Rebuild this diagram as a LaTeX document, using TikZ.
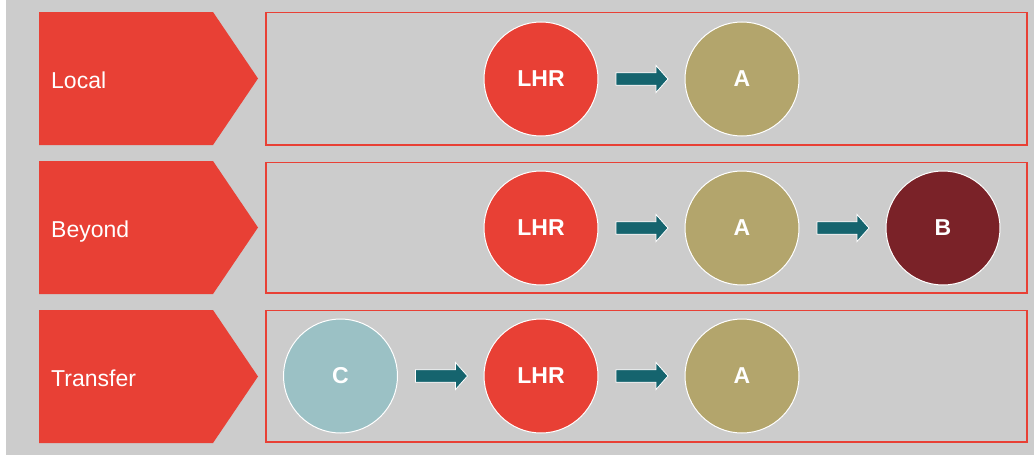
\documentclass[tikz,border=0pt]{standalone}
\usepackage{fontspec}
\setmainfont{Liberation Sans}
\definecolor{bg}{HTML}{CCCCCC}
\definecolor{hred}{HTML}{E84035}
\definecolor{aolive}{HTML}{B3A56C}
\definecolor{bmaroon}{HTML}{7A2228}
\definecolor{cteal}{HTML}{9BC1C5}
\definecolor{arrteal}{HTML}{15646E}
\tikzset{
  lbl/.style={text=white,font=\fontsize{23}{27}\selectfont,anchor=base west,inner sep=0},
  rowbox/.style={draw=hred,line width=1.3pt},
  circ/.style={circle,draw=white,line width=1pt,minimum size=114pt,inner sep=0,text=white,font=\bfseries\fontsize{23}{27}\selectfont},
  flowarrow/.style={fill=arrteal,draw=white,line width=0.8pt,line join=miter}
}
\newcommand\myflow[1]{%
  \draw[flowarrow] ([shift={(-26,-6.2)}]#1) -- ([shift={(14,-6.2)}]#1) -- ([shift={(14,-13.5)}]#1) -- ([shift={(26,0)}]#1) -- ([shift={(14,13.5)}]#1) -- ([shift={(14,6.2)}]#1) -- ([shift={(-26,6.2)}]#1) -- cycle;}
\begin{document}
\begin{tikzpicture}[x=1pt,y=-1pt]
\useasboundingbox (0,0) rectangle (1034,455);
\fill[bg] (6,0) rectangle (1034,455);
% pentagons
\foreach \t/\n/\txt in {12/p1/Local,161/p2/Beyond,310/p3/Transfer}{
  \fill[hred] (39,\t) -- (213,\t) -- (258,\t+66.5) -- (213,\t+133) -- (39,\t+133) -- cycle;
  \node[lbl] (\n) at (51,\t+76) {\txt};
}
% row boxes
\draw[rowbox] (266,12.5) rectangle (1027,145);
\draw[rowbox] (266,162.5) rectangle (1027,293);
\draw[rowbox] (266,310.5) rectangle (1027,442);
% row 1
\node[circ,fill=hred] (l1) at (541,79) {LHR};
\node[circ,fill=aolive] (a1) at (742,79) {A};
\coordinate (f1) at (642,79);
\myflow{f1}
% row 2
\node[circ,fill=hred] (l2) at (541,228) {LHR};
\node[circ,fill=aolive] (a2) at (742,228) {A};
\node[circ,fill=bmaroon] (b2) at (943,228) {B};
\coordinate (f2) at (642,228);
\coordinate (f3) at (843,228);
\myflow{f2}
\myflow{f3}
% row 3
\node[circ,fill=cteal] (c3) at (340.5,376) {C};
\node[circ,fill=hred] (l3) at (541,376) {LHR};
\node[circ,fill=aolive] (a3) at (742,376) {A};
\coordinate (f4) at (441.5,376);
\coordinate (f5) at (642,376);
\myflow{f4}
\myflow{f5}
\end{tikzpicture}
\end{document}
